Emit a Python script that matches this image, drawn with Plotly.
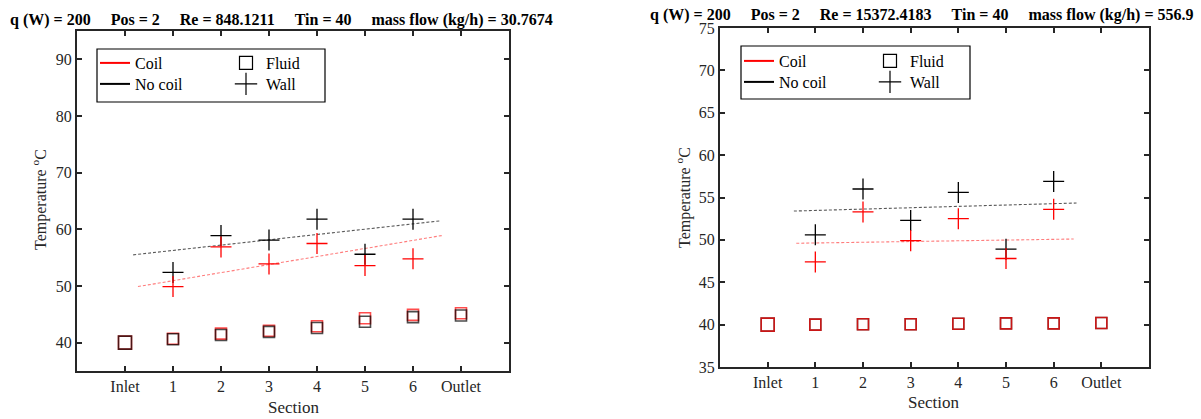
import plotly.graph_objects as go

W, H = 1201, 419

sections = ["Inlet", "1", "2", "3", "4", "5", "6", "Outlet"]
wall_sections = ["1", "2", "3", "4", "5", "6"]

# ---- Left panel (Re = 848.1211)
left_title = "q (W) = 200     Pos = 2     Re = 848.1211     Tin = 40     mass flow (kg/h) = 30.7674"
L_fluid_coil = [40.0, 40.7, 41.6, 42.1, 42.9, 44.3, 44.9, 45.2]
L_fluid_nocoil = [40.0, 40.6, 41.35, 41.9, 42.6, 43.7, 44.5, 44.8]
L_wall_coil = [49.9, 56.9, 53.9, 57.5, 53.6, 54.8]
L_wall_nocoil = [52.4, 58.9, 58.1, 61.8, 55.6, 61.8]
L_fit_x_coil = [1.27, 7.6]
L_fit_y_coil = [49.9, 58.9]
L_fit_x_nocoil = [1.17, 7.57]
L_fit_y_nocoil = [55.5, 61.5]
L_yticks = [40, 50, 60, 70, 80, 90]

# ---- Right panel (Re = 15372.4183)
right_title = "q (W) = 200     Pos = 2     Re = 15372.4183     Tin = 40     mass flow (kg/h) = 556.9"
R_fluid_coil = [40.0, 40.0, 40.05, 40.05, 40.1, 40.15, 40.15, 40.2]
R_fluid_nocoil = [40.0, 40.0, 40.05, 40.05, 40.1, 40.15, 40.15, 40.2]
R_wall_coil = [47.4, 53.3, 49.9, 52.5, 47.8, 53.6]
R_wall_nocoil = [50.6, 56.0, 52.3, 55.6, 48.9, 56.9]
R_fit_x_coil = [1.6, 7.42]
R_fit_y_coil = [49.6, 50.1]
R_fit_x_nocoil = [1.55, 7.48]
R_fit_y_nocoil = [53.4, 54.35]
R_yticks = [35, 40, 45, 50, 55, 60, 65, 70, 75]

legend_names = ["Coil", "No coil", "Fluid", "Wall"]

pos = {s: i + 1 for i, s in enumerate(sections)}
x_fluid = [pos[s] for s in sections]
x_wall = [pos[s] for s in wall_sections]

FONT = "Liberation Serif"
AX = "#262626"
RED = "#ff0000"
BLK = "#000000"

fig = go.Figure()


def px_x(p):
    return p / W


def px_y(p):
    return 1 - p / H


def add_panel(xa, ya, fluid_coil, fluid_nocoil, wall_coil, wall_nocoil,
              fxc, fyc, fxn, fyn, red_on_top):
    sq_sizes = [13] + [11] * (len(sections) - 1)
    fig.add_trace(go.Scatter(x=fxc, y=fyc, mode="lines", xaxis=xa, yaxis=ya,
                             line=dict(color="rgba(255,70,70,0.7)", width=1.1, dash="3px,2px"),
                             showlegend=False, hoverinfo="skip"))
    fig.add_trace(go.Scatter(x=fxn, y=fyn, mode="lines", xaxis=xa, yaxis=ya,
                             line=dict(color="rgba(0,0,0,0.65)", width=1.1, dash="3px,2px"),
                             showlegend=False, hoverinfo="skip"))

    def fluid(vals, col):
        return go.Scatter(x=x_fluid, y=vals, mode="markers", xaxis=xa, yaxis=ya,
                          marker=dict(symbol="square-open", size=sq_sizes, color=col,
                                      line=dict(width=1.6, color=col)),
                          showlegend=False)

    def wall(vals, col):
        return go.Scatter(x=x_wall, y=vals, mode="markers", xaxis=xa, yaxis=ya,
                          marker=dict(symbol="cross-thin-open", size=15, color=col,
                                      line=dict(width=1.3, color=col)),
                          showlegend=False)

    if red_on_top:
        fig.add_trace(fluid(fluid_nocoil, BLK))
        fig.add_trace(fluid(fluid_coil, RED))
    else:
        fig.add_trace(fluid(fluid_coil, RED))
        fig.add_trace(fluid(fluid_nocoil, BLK))
    fig.add_trace(wall(wall_nocoil, BLK))
    fig.add_trace(wall(wall_coil, RED))


add_panel("x", "y", L_fluid_coil, L_fluid_nocoil, L_wall_coil, L_wall_nocoil,
          L_fit_x_coil, L_fit_y_coil, L_fit_x_nocoil, L_fit_y_nocoil, False)
add_panel("x2", "y2", R_fluid_coil, R_fluid_nocoil, R_wall_coil, R_wall_nocoil,
          R_fit_x_coil, R_fit_y_coil, R_fit_x_nocoil, R_fit_y_nocoil, True)

# legend-only traces, one legend per entry so that the 2x2 layout can be reproduced
legend_styles = [
    dict(mode="lines", line=dict(color=RED, width=2)),
    dict(mode="lines", line=dict(color=BLK, width=2)),
    dict(mode="markers", marker=dict(symbol="square-open", size=13, color=BLK,
                                     line=dict(width=1.2, color=BLK))),
    dict(mode="markers", marker=dict(symbol="cross-thin-open", size=18, color=BLK,
                                     line=dict(width=1.2, color=BLK))),
]
legend_ids = ["legend", "legend2", "legend3", "legend4",
              "legend5", "legend6", "legend7", "legend8"]
panel_axes = [("x", "y"), ("x2", "y2")]
for p, (xa, ya) in enumerate(panel_axes):
    for k, name in enumerate(legend_names):
        fig.add_trace(go.Scatter(x=[None], y=[None], name=name, xaxis=xa, yaxis=ya,
                                 legend=legend_ids[p * 4 + k], **legend_styles[k]))

axis_common = dict(showline=True, linecolor=AX, linewidth=2, mirror="ticks",
                   ticks="inside", ticklen=5, tickwidth=1.5, tickcolor=AX,
                   showgrid=False, zeroline=False, automargin=False,
                   tickfont=dict(family=FONT, size=16, color=AX))

L_dom_x = [px_x(77), px_x(509)]
L_dom_y = [px_y(371), px_y(31)]
R_dom_x = [px_x(720), px_x(1149)]
R_dom_y = [px_y(367), px_y(28)]

leg_common = dict(bgcolor="rgba(0,0,0,0)", borderwidth=0, xanchor="left", yanchor="top",
                  font=dict(family=FONT, size=16, color=BLK), tracegroupgap=0,
                  itemwidth=30, itemclick=False, itemdoubleclick=False)

# legend anchor points in pixels: (left, top) per entry
legend_px = [(95, 46), (95, 67), (226, 46), (226, 67),
             (739, 44), (739, 65), (870, 44), (870, 65)]
legend_layout = {lid: dict(x=px_x(lx), y=px_y(ly), **leg_common)
                 for lid, (lx, ly) in zip(legend_ids, legend_px)}

fig.update_layout(
    width=W, height=H,
    margin=dict(l=0, r=0, t=0, b=0, autoexpand=False),
    paper_bgcolor="white", plot_bgcolor="white",
    xaxis=dict(domain=L_dom_x, range=[0, 9], tickvals=x_fluid, ticktext=sections,
               anchor="y", **axis_common),
    yaxis=dict(domain=L_dom_y, range=[35, 95], tickvals=L_yticks, anchor="x", **axis_common),
    xaxis2=dict(domain=R_dom_x, range=[0, 9], tickvals=x_fluid, ticktext=sections,
                anchor="y2", **axis_common),
    yaxis2=dict(domain=R_dom_y, range=[35, 75], tickvals=R_yticks, anchor="x2", **axis_common),
    showlegend=True,
    **legend_layout,
)

# legend boxes
for (x0, y0, x1, y1) in [(97, 49, 325, 102), (741, 46, 970, 99)]:
    fig.add_shape(type="rect", xref="paper", yref="paper",
                  x0=px_x(x0), x1=px_x(x1), y0=px_y(y1), y1=px_y(y0),
                  line=dict(color=BLK, width=1.2), fillcolor="rgba(0,0,0,0)")


def ann(text, x, y, size=16, bold=False, angle=0):
    fig.add_annotation(text=("<b>%s</b>" % text) if bold else text,
                       x=px_x(x), y=px_y(y), xref="paper", yref="paper",
                       xanchor="center", yanchor="middle", showarrow=False,
                       textangle=angle,
                       font=dict(family=FONT, size=size, color=BLK if bold else AX))


ann(left_title.replace(" ", "&nbsp;"), 281, 20, size=16, bold=True)
ann(right_title.replace(" ", "&nbsp;"), 922, 15, size=16, bold=True)
ann("Section", 293, 407, size=17)
ann("Section", 934, 402, size=17)
ann("Temperature <sup>o</sup>C", 40, 200, size=16, angle=-90)
ann("Temperature <sup>o</sup>C", 683, 198, size=16, angle=-90)

fig.write_html("out.html", config={"displayModeBar": False},
               post_script="document.body.style.margin='0';")
